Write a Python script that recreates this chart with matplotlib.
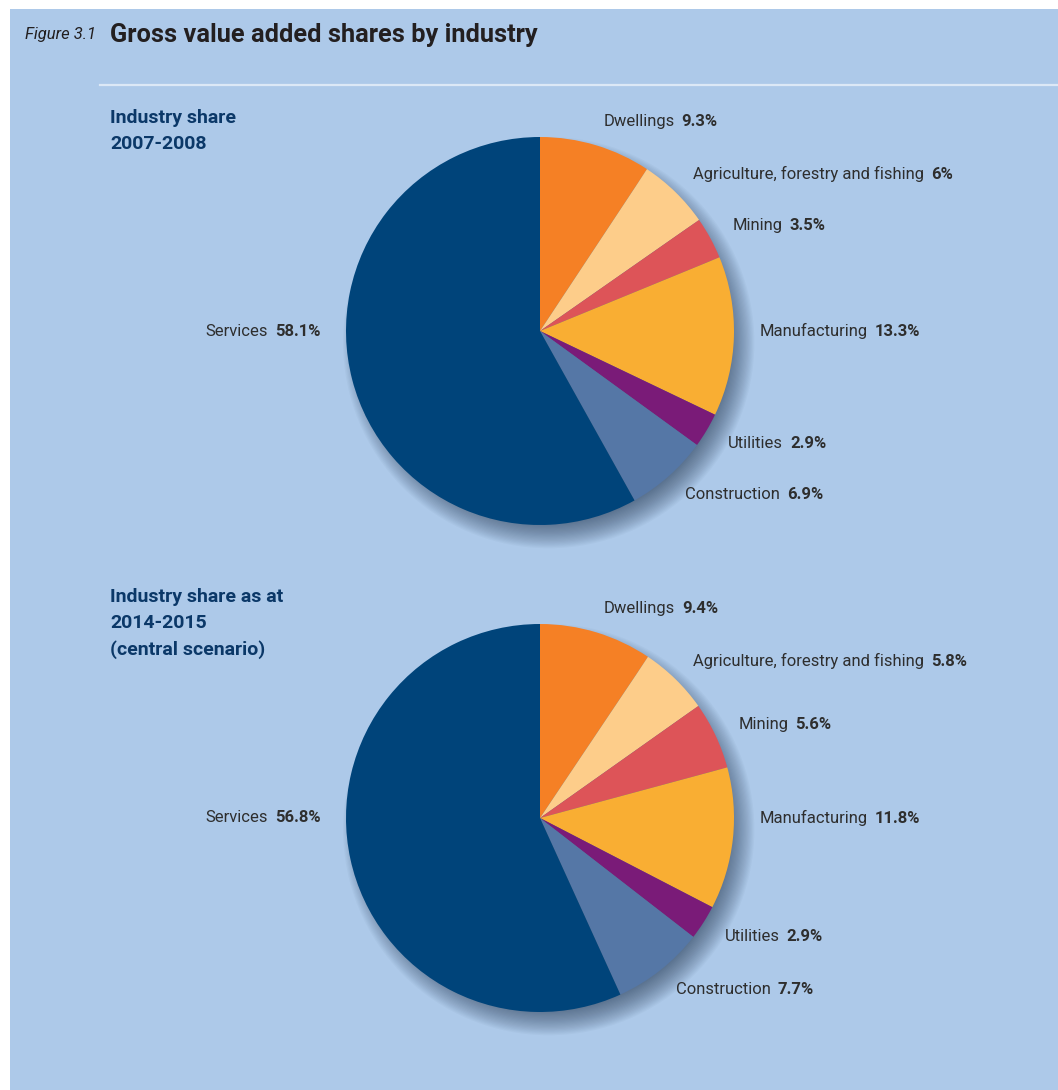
import numpy as np
import matplotlib.pyplot as plt
from matplotlib.patches import Rectangle, Circle
from matplotlib.lines import Line2D

W, H = 1058, 1090

industries = ["Dwellings", "Agriculture, forestry and fishing", "Mining",
              "Manufacturing", "Utilities", "Construction", "Services"]
share_0708 = [9.3, 6, 3.5, 13.3, 2.9, 6.9, 58.1]
share_1415 = [9.4, 5.8, 5.6, 11.8, 2.9, 7.7, 56.8]
colours = ["#F58025", "#FDCD8A", "#DD5458", "#F9AE33", "#7A1B78", "#5577A6", "#00447A"]

title_fig = "Figure 3.1"
title_main = "Gross value added shares by industry"
sub_0708 = "Industry share\n2007-2008"
sub_1415 = "Industry share as at\n2014-2015\n(central scenario)"

BG = "#ADC9E9"
NARROW = ["Liberation Sans Narrow", "Roboto", "DejaVu Sans"]
TXT = "#2E2E2E"
R_PX = 194  # pie radius in pixels

fig = plt.figure(figsize=(W / 100, H / 100), dpi=100, facecolor="white")
fig.patches.append(Rectangle((10 / W, 0), 1, 1 - 9 / H, transform=fig.transFigure,
                             facecolor=BG, edgecolor="none", zorder=-5))
fig.add_artist(Line2D([100 / W, 1], [1 - 85 / H] * 2, transform=fig.transFigure,
                      color="#DCE8F6", lw=1.6, zorder=-4))


def fmt(v):
    return f"{v:g}%"


def draw_pie(cy, values):
    half = 270
    ax = fig.add_axes([0, (H - cy - half) / H, 1, 2 * half / H])
    ax.patch.set_alpha(0)

    # soft drop shadow behind the pie, pushed down and right
    for r in np.linspace(0.92, 1.06, 24):
        ax.add_patch(Circle((0.045, -0.06), r, facecolor="#1E3049", alpha=0.03,
                            edgecolor="none", zorder=1))

    wedges, _ = ax.pie(values, colors=colours, startangle=90, counterclock=False,
                       radius=1, wedgeprops=dict(linewidth=0))
    for w in wedges:
        w.set_zorder(2)

    # pie() resets the limits, so set them afterwards
    ax.set_aspect("auto")
    ax.set_xlim(-540 / R_PX, (W - 540) / R_PX)
    ax.set_ylim(-half / R_PX, half / R_PX)
    ax.axis("off")

    for w, name, v in zip(wedges, industries, values):
        span = (w.theta2 - w.theta1) % 360
        a1 = w.theta1
        ang = a1 + span / 2
        # wedges that cross the horizontal get a level label
        for h in (0, 180):
            if 0 < (h - a1) % 360 < span:
                ang = h
        rad = np.deg2rad(ang)
        x, y = 1.13 * np.cos(rad), 1.13 * np.sin(rad)
        if x >= 0:
            t = ax.text(x, y, name, ha="left", va="center", fontsize=12,
                        family=NARROW, color=TXT)
            ax.annotate(fmt(v), xy=(1, 0), xycoords=t, xytext=(5, 0),
                        textcoords="offset points", ha="left", va="bottom",
                        fontsize=12, family=NARROW, fontweight="bold", color=TXT)
        else:
            t = ax.text(x, y, fmt(v), ha="right", va="center", fontsize=12,
                        family=NARROW, fontweight="bold", color=TXT)
            ax.annotate(name, xy=(0, 0), xycoords=t, xytext=(-5, 0),
                        textcoords="offset points", ha="right", va="bottom",
                        fontsize=12, family=NARROW, color=TXT)
    return ax


draw_pie(331, share_0708)
draw_pie(818, share_1415)

fig.text(25 / W, 1 - 35 / H, title_fig, ha="left", va="center", fontsize=12,
         family=NARROW, style="italic", color="#231F20")
fig.text(110 / W, 1 - 35 / H, title_main, ha="left", va="center", fontsize=18.3,
         family=NARROW, fontweight="bold", color="#231F20")
fig.text(110 / W, 1 - 109 / H, sub_0708, ha="left", va="top", fontsize=14,
         family=NARROW, fontweight="bold", color="#0B3868", linespacing=1.55)
fig.text(110 / W, 1 - 588 / H, sub_1415, ha="left", va="top", fontsize=14,
         family=NARROW, fontweight="bold", color="#0B3868", linespacing=1.55)

fig.savefig("out.png", dpi=100, facecolor="white")
